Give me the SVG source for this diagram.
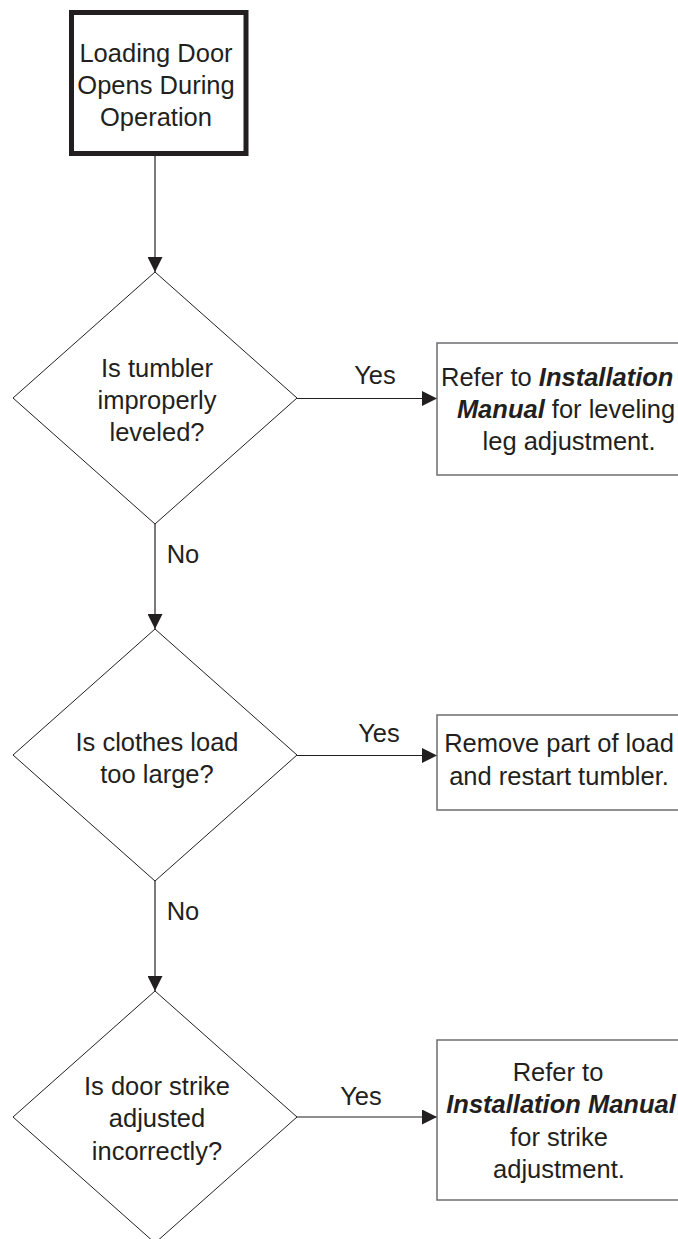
<svg xmlns="http://www.w3.org/2000/svg" width="678" height="1239" viewBox="0 0 678 1239">
<defs>
<style>
text{font-family:"Liberation Sans",Arial,sans-serif;font-size:25.5px;fill:#231f20;}
.c{text-anchor:middle;}
.bi{font-weight:bold;font-style:italic;}
.dia{fill:#fff;stroke:#231f20;stroke-width:1;}
.box{fill:#fff;stroke:#6d6e71;stroke-width:1.5;}
.start{fill:#fff;stroke:#231f20;stroke-width:5;}
.conn{stroke:#231f20;stroke-width:1.2;fill:none;}
</style>
<marker id="ah" viewBox="0 0 15 15" refX="15" refY="7.5" markerWidth="15" markerHeight="15" markerUnits="userSpaceOnUse" orient="auto">
<path d="M0,0 L15,7.5 L0,15 Z" fill="#231f20"/>
</marker>
</defs>
<rect width="678" height="1239" fill="#fff"/>

<g id="connectors">
<line class="conn" x1="155" y1="156" x2="155" y2="272" marker-end="url(#ah)"/>
<line class="conn" x1="297" y1="398.5" x2="437" y2="398.5" marker-end="url(#ah)"/>
<line class="conn" x1="155" y1="524" x2="155" y2="629" marker-end="url(#ah)"/>
<line class="conn" x1="297" y1="755.5" x2="437" y2="755.5" marker-end="url(#ah)"/>
<line class="conn" x1="155" y1="881" x2="155" y2="991" marker-end="url(#ah)"/>
<line class="conn" x1="297" y1="1117" x2="437" y2="1117" marker-end="url(#ah)"/>
<text x="375" y="384" class="c">Yes</text>
<text x="183" y="563" class="c">No</text>
<text x="379" y="742" class="c">Yes</text>
<text x="183" y="920" class="c">No</text>
<text x="361" y="1105" class="c">Yes</text>
</g>

<g id="start">
<rect class="start" x="71.5" y="12.5" width="174.5" height="141"/>
<text x="156" y="62" class="c">Loading Door</text>
<text x="156" y="94" class="c">Opens During</text>
<text x="156" y="126" class="c">Operation</text>
</g>

<g id="q1">
<polygon class="dia" points="155,272 297,398 155,524 13,398"/>
<text x="157" y="377" class="c">Is tumbler</text>
<text x="157" y="409" class="c">improperly</text>
<text x="157" y="441" class="c">leveled?</text>
</g>

<g id="a1">
<rect class="box" x="437" y="343" width="250" height="132"/>
<text x="441" y="386"><tspan>Refer to </tspan><tspan class="bi">Installation</tspan></text>
<text x="566" y="418" class="c"><tspan class="bi">Manual</tspan> for leveling</text>
<text x="569" y="450" class="c">leg adjustment.</text>
</g>

<g id="q2">
<polygon class="dia" points="155,629 297,755 155,881 13,755"/>
<text x="157" y="751" class="c">Is clothes load</text>
<text x="157" y="783" class="c">too large?</text>
</g>

<g id="a2">
<rect class="box" x="437" y="715" width="250" height="95"/>
<text x="559" y="752" class="c">Remove part of load</text>
<text x="559" y="785" class="c">and restart tumbler.</text>
</g>

<g id="q3">
<polygon class="dia" points="155,991 297,1117 155,1243 13,1117"/>
<text x="157" y="1095" class="c">Is door strike</text>
<text x="157" y="1127" class="c">adjusted</text>
<text x="157" y="1160" class="c">incorrectly?</text>
</g>

<g id="a3">
<rect class="box" x="437" y="1040" width="250" height="160"/>
<text x="558" y="1081" class="c">Refer to</text>
<text x="561" y="1113" class="c bi">Installation Manual</text>
<text x="559" y="1146" class="c">for strike</text>
<text x="559" y="1178" class="c">adjustment.</text>
</g>
</svg>
